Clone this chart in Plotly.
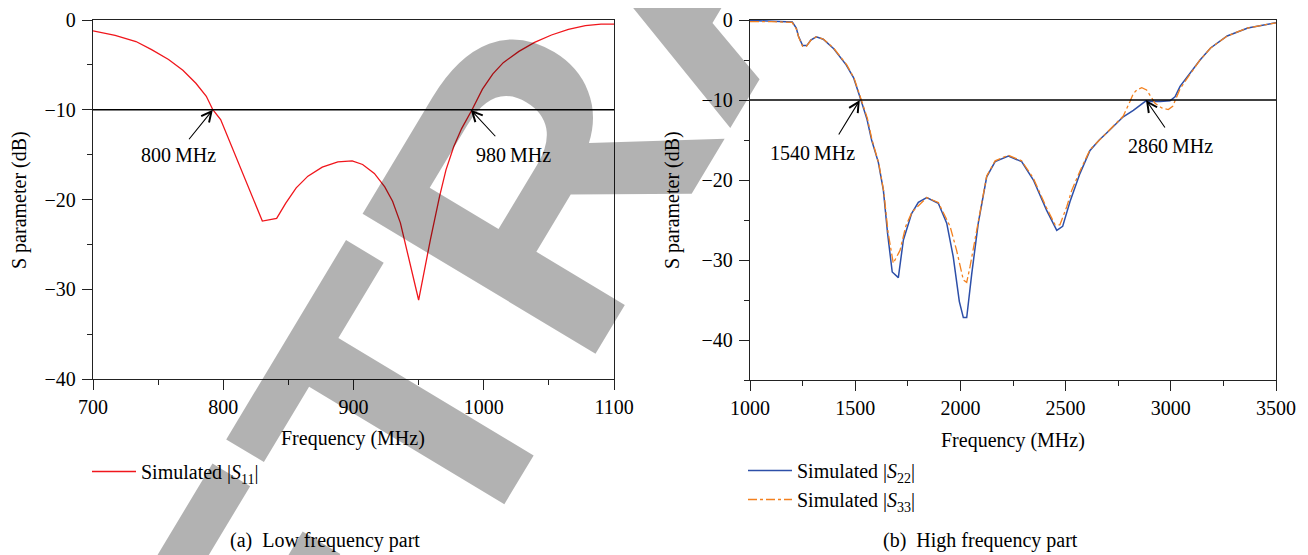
import math
import plotly.graph_objects as go

# ---------------- data ----------------
LOW_FREQ = [700, 717, 733, 745, 758, 769, 779, 787, 792, 798, 830, 841, 848, 856, 865,
            876, 888, 899, 907, 916, 924, 930, 936, 942, 950, 959, 966, 971, 977, 983,
            991, 999, 1007, 1015, 1027, 1039, 1052, 1065, 1078, 1090, 1100]
S11 = [-1.2, -1.7, -2.4, -3.3, -4.4, -5.6, -7.05, -8.5, -10.0, -11.1, -22.4, -22.1,
       -20.4, -18.7, -17.4, -16.4, -15.8, -15.7, -16.1, -17.1, -18.6, -20.2, -22.6,
       -26.3, -31.2, -24.5, -19.7, -16.7, -14.1, -12.1, -10.0, -7.7, -6.0, -4.75,
       -3.5, -2.5, -1.67, -1.04, -0.63, -0.45, -0.45]

HIGH_FREQ_22 = [1000, 1083, 1201, 1220, 1230, 1250, 1270, 1289, 1315, 1348,
                1398, 1457, 1492, 1526, 1555, 1578, 1610, 1634, 1654, 1676,
                1705, 1729, 1768, 1800, 1840, 1895, 1935, 1966, 1995, 2014,
                2030, 2054, 2085, 2125, 2165, 2228, 2291, 2347, 2410, 2458,
                2486, 2521, 2568, 2616, 2660, 2700, 2774, 2822, 2882, 2909,
                2949, 2996, 3020, 3044, 3091, 3139, 3189, 3268, 3366, 3500]
S22 = [-0.05, -0.1, -0.25, -1.0, -2.0, -3.2, -3.2, -2.5, -2.1, -2.4,
       -3.6, -5.6, -7.2, -9.9, -12.3, -15.0, -17.8, -21.3, -26.7, -31.5,
       -32.2, -27.5, -24.2, -22.8, -22.2, -22.9, -25.4, -29.6, -35.2, -37.2,
       -37.2, -31.7, -25.4, -19.6, -17.7, -17.0, -17.7, -20.0, -23.8, -26.3,
       -25.8, -22.7, -19.2, -16.3, -15.0, -14.0, -12.1, -11.3, -10.1, -10.2,
       -10.2, -10.1, -9.6, -8.3, -6.7, -5.0, -3.5, -2.0, -1.0, -0.33]

HIGH_FREQ_33 = [1000, 1100, 1200, 1220, 1232, 1250, 1268, 1290, 1315, 1350,
                1400, 1460, 1495, 1528, 1558, 1580, 1612, 1636, 1656, 1681,
                1713, 1740, 1770, 1840, 1895, 1951, 1982, 2014, 2030, 2046,
                2069, 2090, 2125, 2165, 2228, 2291, 2347, 2410, 2450, 2473,
                2506, 2529, 2568, 2616, 2660, 2700, 2774, 2806, 2822, 2838,
                2862, 2885, 2901, 2925, 2957, 2988, 3009, 3028, 3044, 3091,
                3139, 3189, 3268, 3366, 3500]
S33 = [-0.2, -0.2, -0.3, -1.1, -2.2, -3.3, -3.3, -2.5, -2.1, -2.4,
       -3.6, -5.6, -7.3, -10.0, -12.3, -15.0, -17.9, -21.5, -26.5, -30.4,
       -28.8, -25.8, -24.0, -22.2, -22.8, -25.8, -28.8, -32.5, -32.8, -30.8,
       -27.5, -25.0, -19.5, -17.6, -16.9, -17.6, -19.8, -23.5, -25.6, -25.6,
       -23.3, -21.3, -18.9, -16.2, -15.0, -14.0, -12.0, -10.2, -9.2, -8.75,
       -8.45, -8.75, -9.4, -10.4, -11.0, -11.2, -10.8, -9.6, -8.6, -6.8,
       -5.0, -3.5, -2.0, -1.0, -0.35]

THRESHOLD_DB = -10
LOW_MARK_FREQ = [792, 990]
LOW_MARK_LABEL = ["800\u2009MHz", "980\u2009MHz"]
HIGH_MARK_FREQ = [1522, 2882]
HIGH_MARK_LABEL = ["1540\u2009MHz", "2860\u2009MHz"]

NAMES = ["Simulated |<i>S</i><sub>11</sub>|",
         "Simulated |<i>S</i><sub>22</sub>|",
         "Simulated |<i>S</i><sub>33</sub>|"]
CAPTIONS = ["(a)\u00a0\u00a0Low frequency part", "(b)\u00a0\u00a0High frequency part"]
X_TITLE = "Frequency (MHz)"
Y_TITLE = "S parameter (dB)"
# visible part of the diagonal "RETRACTED" watermark (letters 2..5)
WATERMARK_LETTERS = ["E", "T", "R", "A"]

# ---------------- figure ----------------
W, H = 1308, 555
OFF = 8  # the page body margin shifts the figure by this many pixels
SERIF = "Liberation Serif, Times New Roman, serif"
FS = 20


def px(v):
    return (v - OFF) / W


def py(v):
    return 1 - (v - OFF) / H


fig = go.Figure()
fig.add_trace(go.Scatter(x=LOW_FREQ, y=S11, mode="lines", name=NAMES[0],
                         line=dict(color="#f0161c", width=1.3),
                         xaxis="x", yaxis="y", legend="legend"))
fig.add_trace(go.Scatter(x=HIGH_FREQ_22, y=S22, mode="lines", name=NAMES[1],
                         line=dict(color="#2d4fa8", width=1.5),
                         xaxis="x2", yaxis="y2", legend="legend2"))
fig.add_trace(go.Scatter(x=HIGH_FREQ_33, y=S33, mode="lines", name=NAMES[2],
                         line=dict(color="#f3801e", width=1.3, dash="dashdot"),
                         xaxis="x2", yaxis="y2", legend="legend2"))

axis_common = dict(showline=True, linecolor="#222", linewidth=1.3, mirror=True,
                   ticks="outside", ticklen=10, tickwidth=1.3, tickcolor="#222",
                   showgrid=False, zeroline=False, automargin=False,
                   tickfont=dict(family=SERIF, size=FS, color="black"))
minor_common = dict(ticklen=5, ticks="outside", tickcolor="#222", tickwidth=1.2)

fig.update_layout(
    template="none",
    width=W, height=H,
    margin=dict(l=0, r=0, t=0, b=0, pad=0, autoexpand=False),
    paper_bgcolor="white", plot_bgcolor="white",
    font=dict(family=SERIF, size=FS, color="black"),
    xaxis=dict(domain=[px(93), px(614)], range=[700, 1100], dtick=100,
               minor=dict(dtick=50, **minor_common), ticklabelstandoff=0,
               anchor="y", **axis_common),
    yaxis=dict(domain=[py(379), py(20)], range=[-40, 0], dtick=10,
               minor=dict(dtick=5, **minor_common), ticklabelstandoff=2,
               anchor="x", **axis_common),
    xaxis2=dict(domain=[px(750), px(1276)], range=[1000, 3500], dtick=500,
                minor=dict(dtick=250, **minor_common), ticklabelstandoff=0,
                anchor="y2", **axis_common),
    yaxis2=dict(domain=[py(380), py(20)], range=[-45, 0], dtick=10, tick0=0,
                minor=dict(dtick=5, **minor_common), ticklabelstandoff=2,
                anchor="x2", **axis_common),
    legend=dict(x=px(87), y=py(452), xanchor="left", yanchor="top", itemwidth=44,
                bgcolor="rgba(0,0,0,0)", font=dict(family=SERIF, size=FS)),
    legend2=dict(x=px(743), y=py(451), xanchor="left", yanchor="top", itemwidth=44,
                 bgcolor="rgba(0,0,0,0)", font=dict(family=SERIF, size=FS),
                 tracegroupgap=0),
    showlegend=True,
)

annotations = []

# ---- watermark: each letter placed along a rotated baseline (drawn first) ----
WM_SIZE = 395
WM_ANGLE = 59.0
WM_ADV = {"R": 0.722, "E": 0.667, "T": 0.611, "A": 0.722}
WM_EXTRA = {"E": 0.0, "T": 0.0, "R": 0.0, "A": -6.0}  # spacing tweak, pixels
base_x, base_y = 523.0, 482.0            # foot of the T stem (screen pixels)
ux, uy = math.cos(math.radians(WM_ANGLE)), -math.sin(math.radians(WM_ANGLE))
vx, vy = -math.sin(math.radians(WM_ANGLE)), -math.cos(math.radians(WM_ANGLE))
pos = 0.0
centres = []
for ch in WATERMARK_LETTERS:
    centres.append(pos + WM_ADV[ch] / 2)
    pos += WM_ADV[ch]
t_centre = centres[WATERMARK_LETTERS.index("T")]
cap_mid = 0.358 * WM_SIZE
for ch, c in zip(WATERMARK_LETTERS, centres):
    s = (c - t_centre) * WM_SIZE + WM_EXTRA[ch]
    cx = base_x + s * ux + cap_mid * vx
    cy = base_y + s * uy + cap_mid * vy
    annotations.append(dict(text="<b>" + ch + "</b>", xref="paper", yref="paper",
                            x=px(cx), y=py(cy), xanchor="center", yanchor="middle",
                            showarrow=False, textangle=-WM_ANGLE,
                            font=dict(family="Liberation Sans", size=WM_SIZE,
                                      color="rgba(0,0,0,0.30)")))

# -10 dB reference lines
for xr, yr in (("x", "y"), ("x2", "y2")):
    fig.add_shape(type="line", xref=xr + " domain", yref=yr, x0=0, x1=1,
                  y0=THRESHOLD_DB, y1=THRESHOLD_DB, line=dict(color="black", width=1.5))

# arrows + labels
arrow_offsets = [(-25, 31), (26, 28)]
label_shifts = [(-34, -45), (43, -45)]
for f, lab, (ax, ay), (sx, sy) in zip(LOW_MARK_FREQ, LOW_MARK_LABEL, arrow_offsets, label_shifts):
    annotations.append(dict(x=f, y=THRESHOLD_DB, xref="x", yref="y", text="",
                            showarrow=True, ax=ax, ay=ay, arrowhead=5, arrowsize=1.8,
                            arrowwidth=1.1, arrowcolor="black"))
    annotations.append(dict(x=f, y=THRESHOLD_DB, xref="x", yref="y", text=lab,
                            showarrow=False, xshift=sx, yshift=sy,
                            font=dict(family=SERIF, size=FS)))
arrow_offsets = [(-22, 36), (20, 29)]
label_shifts = [(-47, -53), (25, -46)]
for f, lab, (ax, ay), (sx, sy) in zip(HIGH_MARK_FREQ, HIGH_MARK_LABEL, arrow_offsets, label_shifts):
    annotations.append(dict(x=f, y=THRESHOLD_DB, xref="x2", yref="y2", text="",
                            showarrow=True, ax=ax, ay=ay, arrowhead=5, arrowsize=1.8,
                            arrowwidth=1.1, arrowcolor="black"))
    annotations.append(dict(x=f, y=THRESHOLD_DB, xref="x2", yref="y2", text=lab,
                            showarrow=False, xshift=sx, yshift=sy,
                            font=dict(family=SERIF, size=FS)))

# axis titles
annotations.append(dict(text=X_TITLE, xref="paper", yref="paper", x=px(353), y=py(438),
                        showarrow=False, xanchor="center", yanchor="middle"))
annotations.append(dict(text=X_TITLE, xref="paper", yref="paper", x=px(1013), y=py(440),
                        showarrow=False, xanchor="center", yanchor="middle"))
annotations.append(dict(text=Y_TITLE, xref="paper", yref="paper", x=px(19), y=py(200),
                        showarrow=False, textangle=-90, xanchor="center", yanchor="middle"))
annotations.append(dict(text=Y_TITLE, xref="paper", yref="paper", x=px(672), y=py(200),
                        showarrow=False, textangle=-90, xanchor="center", yanchor="middle"))
# captions
annotations.append(dict(text=CAPTIONS[0], xref="paper", yref="paper", x=px(325), y=py(540),
                        showarrow=False, xanchor="center", yanchor="middle"))
annotations.append(dict(text=CAPTIONS[1], xref="paper", yref="paper", x=px(980), y=py(540),
                        showarrow=False, xanchor="center", yanchor="middle"))

fig.update_layout(annotations=annotations)
fig.write_html("out.html")
